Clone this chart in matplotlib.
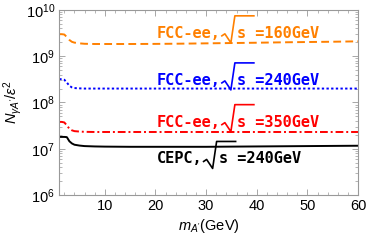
import numpy as np
import matplotlib.pyplot as plt
from matplotlib.lines import Line2D
from matplotlib.transforms import IdentityTransform
from matplotlib.ticker import LogLocator, MultipleLocator, NullFormatter

# dark photon mass grid (GeV) and the N/eps^2 curves
mass = [1, 1.5, 2, 2.5, 3, 3.5, 4, 5, 6, 8, 10, 15, 20, 25, 30, 35, 40, 45, 50, 55, 60]
fcc160 = [3.0e9, 3.0e9, 2.95e9, 2.6e9, 2.25e9, 2.05e9, 1.97e9, 1.9e9, 1.86e9, 1.84e9, 1.84e9,
          1.84e9, 1.85e9, 1.87e9, 1.9e9, 1.93e9, 1.96e9, 2.0e9, 2.03e9, 2.06e9, 2.1e9]
fcc240 = [3.2e8, 3.2e8, 3.1e8, 2.7e8, 2.3e8, 2.12e8, 2.05e8, 2.02e8, 2.0e8, 2.0e8, 2.0e8,
          2.0e8, 2.0e8, 2.0e8, 2.0e8, 2.0e8, 2.0e8, 2.0e8, 2.0e8, 2.0e8, 2.0e8]
fcc350 = [3.8e7, 3.8e7, 3.7e7, 3.2e7, 2.7e7, 2.5e7, 2.4e7, 2.35e7, 2.32e7, 2.3e7, 2.3e7,
          2.3e7, 2.3e7, 2.3e7, 2.3e7, 2.3e7, 2.3e7, 2.3e7, 2.3e7, 2.3e7, 2.3e7]
cepc240 = [1.8e7, 1.8e7, 1.8e7, 1.78e7, 1.45e7, 1.3e7, 1.22e7, 1.17e7, 1.14e7, 1.12e7, 1.11e7,
           1.1e7, 1.1e7, 1.1e7, 1.1e7, 1.11e7, 1.12e7, 1.13e7, 1.14e7, 1.15e7, 1.16e7]

# label text: prefix, energy, baseline anchor (x, y) in data coords, colour
labels = [("FCC-ee,", "160GeV", 20.3, 2.5e9, "#FF8000"),
          ("FCC-ee,", "240GeV", 20.3, 2.4e8, "#0000FF"),
          ("FCC-ee,", "350GeV", 20.3, 3.0e7, "#FF0000"),
          ("CEPC,", "240GeV", 20.3, 4.8e6, "black")]

plt.rcParams['font.family'] = ['Liberation Sans', 'DejaVu Sans']
plt.rcParams['mathtext.fontset'] = 'custom'
plt.rcParams['mathtext.rm'] = 'Liberation Sans'
plt.rcParams['mathtext.it'] = 'Liberation Sans:italic'

fig = plt.figure(figsize=(3.68, 2.44), dpi=100)
ax = fig.add_axes([0.161, 0.201, 0.812, 0.758])

ax.plot(mass, fcc160, color="#FF8000", lw=1.4, ls=(0, (4, 2.2)))
ax.plot(mass, fcc240, color="#0000FF", lw=1.4, ls=(0, (1.2, 1.2)))
ax.plot(mass, fcc350, color="#FF0000", lw=1.4, ls=(0, (4, 1.5, 1, 1.5)))
ax.plot(mass, cepc240, color="black", lw=1.4)

ax.set_yscale('log')
ax.set_xlim(1, 60)
ax.set_ylim(1e6, 1e10)
ax.xaxis.set_major_locator(MultipleLocator(10))
ax.xaxis.set_minor_locator(MultipleLocator(2))
ax.yaxis.set_major_locator(LogLocator(base=10, numticks=10))
ax.yaxis.set_minor_locator(LogLocator(base=10, subs=np.arange(2, 10), numticks=10))
ax.yaxis.set_minor_formatter(NullFormatter())

ax.tick_params(which='both', direction='in', top=True, right=True, color='#999999',
               labelsize=10.5, pad=3)
ax.tick_params(which='major', length=4, width=0.6)
ax.tick_params(which='minor', length=2, width=0.5)
for sp in ax.spines.values():
    sp.set_color('#999999')
    sp.set_linewidth(0.8)

ax.set_xlabel(r"$m_{A'}$(GeV)", fontsize=10.5, labelpad=3)
ax.set_ylabel(r"$N_{\gamma A'}/\epsilon^2$", fontsize=10.5, labelpad=1)

mono = dict(family='DejaVu Sans Mono', weight='bold', fontsize=11)
prefixes = []
for pre, energy, lx, ly, col in labels:
    t1 = ax.text(lx, ly, pre, color=col, va='baseline', **mono)
    ax.annotate("s =" + energy, xy=(1, 0), xycoords=t1, xytext=(16 * 0.72, 0),
                textcoords='offset points', color=col, va='bottom', **mono)
    prefixes.append((t1, lx, ly, col))

# square-root signs, drawn in pixels right after each prefix
fig.canvas.draw()
renderer = fig.canvas.get_renderer()
for t1, lx, ly, col in prefixes:
    x0 = t1.get_window_extent(renderer).x1
    yb = ax.transData.transform((lx, ly))[1]
    dx = [1, 4, 10, 14, 33]
    dy = [2, 4, -5, 22, 22]
    fig.add_artist(Line2D([x0 + d for d in dx], [yb + d for d in dy], color=col,
                          lw=1.2, transform=IdentityTransform()))

fig.savefig("out.png", dpi=100)
